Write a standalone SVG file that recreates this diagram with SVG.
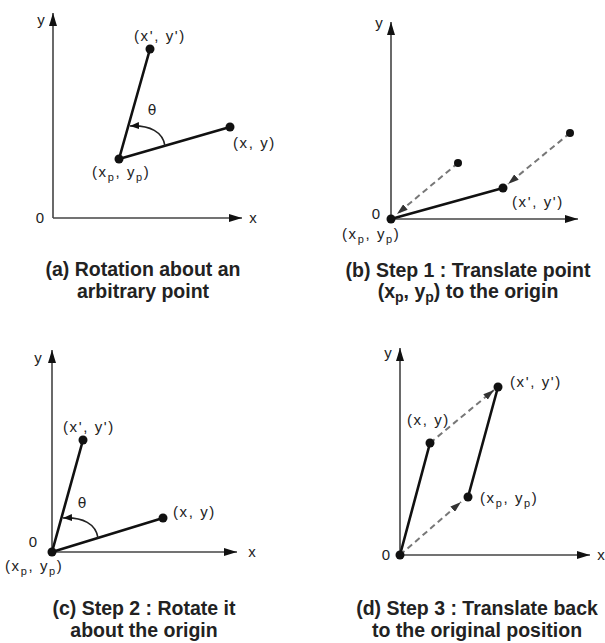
<svg xmlns="http://www.w3.org/2000/svg" width="605" height="643" viewBox="0 0 605 643">
<style>
.axis{stroke:#444;stroke-width:1.6;fill:none}
.seg{stroke:#111;stroke-width:2.6;fill:none;stroke-linecap:round}
.dash{stroke:#777;stroke-width:2;fill:none;stroke-dasharray:6 4}
.arc{stroke:#222;stroke-width:1.6;fill:none}
.dot{fill:#111}
.lbl{font-family:"Liberation Sans",Arial,sans-serif;font-size:15px;fill:#222;letter-spacing:1.6px}
.ax{font-family:"Liberation Sans",Arial,sans-serif;font-size:15px;fill:#222;text-anchor:middle}
.sub{font-size:11px}
.cap{font-family:"Liberation Sans",Arial,sans-serif;font-size:19.5px;font-weight:bold;fill:#222;text-anchor:middle}
.capsub{font-size:14px}
.th{font-family:"DejaVu Sans",sans-serif;font-size:14px;fill:#222;text-anchor:middle}
</style>
<defs>
<marker id="axarrow" markerUnits="userSpaceOnUse" markerWidth="13" markerHeight="8" refX="13" refY="4" orient="auto"><path d="M0,0 L13,4 L0,8 z" fill="#111"/></marker>
<marker id="darrow" markerUnits="userSpaceOnUse" markerWidth="11" markerHeight="7" refX="11" refY="3.5" orient="auto"><path d="M0,0 L11,3.5 L0,7 z" fill="#333"/></marker>
<marker id="aarrow" markerUnits="userSpaceOnUse" markerWidth="9" markerHeight="7" refX="9" refY="3.5" orient="auto"><path d="M0,0 L9,3.5 L0,7 z" fill="#111"/></marker>
</defs>
<rect width="605" height="643" fill="#fff"/>

<g id="connectors">
  <!-- panel a -->
  <path class="axis" d="M53,218 L53,13" marker-end="url(#axarrow)"/>
  <path class="axis" d="M53,218 L242,218" marker-end="url(#axarrow)"/>
  <path class="seg" d="M119,159 L150,49"/>
  <path class="seg" d="M119,159 L230,127"/>
  <path class="arc" d="M165,146 C163,132 150,125 130,126" marker-end="url(#aarrow)"/>
  <!-- panel b -->
  <path class="axis" d="M391,219 L391,22" marker-end="url(#axarrow)"/>
  <path class="axis" d="M391,219 L578,219" marker-end="url(#axarrow)"/>
  <path class="seg" d="M391,219 L503,188"/>
  <path class="dash" d="M458,163 L397,214" marker-end="url(#darrow)"/>
  <path class="dash" d="M570,133 L508,184" marker-end="url(#darrow)"/>
  <!-- panel c -->
  <path class="axis" d="M52,552 L52,350" marker-end="url(#axarrow)"/>
  <path class="axis" d="M52,552 L237,552" marker-end="url(#axarrow)"/>
  <path class="seg" d="M52,552 L83,440"/>
  <path class="seg" d="M52,552 L163,518"/>
  <path class="arc" d="M98,538 C96,524 83,517 63,518" marker-end="url(#aarrow)"/>
  <!-- panel d -->
  <path class="axis" d="M400,555 L400,348" marker-end="url(#axarrow)"/>
  <path class="axis" d="M400,555 L590,555" marker-end="url(#axarrow)"/>
  <path class="seg" d="M400,555 L430,443"/>
  <path class="seg" d="M468,497 L498,387"/>
  <path class="dash" d="M400,555 L461,502" marker-end="url(#darrow)"/>
  <path class="dash" d="M430,443 L494,390" marker-end="url(#darrow)"/>
</g>

<g id="panel-a">
  <text class="ax" x="41" y="25">y</text>
  <text class="ax" x="40" y="223">0</text>
  <text class="ax" x="253" y="223">x</text>
  <g id="a-pivot"><circle class="dot" cx="119" cy="159" r="4.5"/><text class="lbl" x="92" y="177">(x<tspan class="sub" dy="4">p</tspan><tspan dy="-4">, y</tspan><tspan class="sub" dy="4">p</tspan><tspan dy="-4">)</tspan></text></g>
  <g id="a-rot"><circle class="dot" cx="150" cy="49" r="4.5"/><text class="lbl" x="134" y="41">(x', y')</text></g>
  <g id="a-pt"><circle class="dot" cx="230" cy="127" r="4.5"/><text class="lbl" x="233" y="148">(x, y)</text></g>
  <text class="th" x="152" y="115">θ</text>
  <text class="cap" x="143" y="276">(a) Rotation about an</text>
  <text class="cap" x="143" y="298">arbitrary point</text>
</g>

<g id="panel-b">
  <text class="ax" x="379" y="28">y</text>
  <text class="ax" x="376" y="219">0</text>
  <g id="b-origin"><circle class="dot" cx="391" cy="219" r="4.5"/><text class="lbl" x="342" y="239">(x<tspan class="sub" dy="4">p</tspan><tspan dy="-4">, y</tspan><tspan class="sub" dy="4">p</tspan><tspan dy="-4">)</tspan></text></g>
  <g id="b-rot"><circle class="dot" cx="503" cy="188" r="4.5"/><text class="lbl" x="512" y="207">(x', y')</text></g>
  <g id="b-old1"><circle class="dot" cx="458" cy="163" r="4"/></g>
  <g id="b-old2"><circle class="dot" cx="570" cy="133" r="4"/></g>
  <text class="cap" x="468" y="277">(b) Step 1 : Translate point</text>
  <text class="cap" x="468" y="298">(x<tspan class="capsub" dy="4">p</tspan><tspan dy="-4">, y</tspan><tspan class="capsub" dy="4">p</tspan><tspan dy="-4">) to the origin</tspan></text>
</g>

<g id="panel-c">
  <text class="ax" x="38" y="363">y</text>
  <text class="ax" x="33" y="547">0</text>
  <text class="ax" x="252" y="557">x</text>
  <g id="c-origin"><circle class="dot" cx="52" cy="552" r="4.5"/><text class="lbl" x="5" y="571">(x<tspan class="sub" dy="4">p</tspan><tspan dy="-4">, y</tspan><tspan class="sub" dy="4">p</tspan><tspan dy="-4">)</tspan></text></g>
  <g id="c-rot"><circle class="dot" cx="83" cy="440" r="4.5"/><text class="lbl" x="63" y="432">(x', y')</text></g>
  <g id="c-pt"><circle class="dot" cx="163" cy="518" r="4.5"/><text class="lbl" x="173" y="517">(x, y)</text></g>
  <text class="th" x="82" y="508">θ</text>
  <text class="cap" x="144" y="615">(c) Step 2 : Rotate it</text>
  <text class="cap" x="144" y="637">about the origin</text>
</g>

<g id="panel-d">
  <text class="ax" x="388" y="358">y</text>
  <text class="ax" x="386" y="560">0</text>
  <text class="ax" x="601" y="560">x</text>
  <g id="d-origin"><circle class="dot" cx="400" cy="555" r="4.5"/></g>
  <g id="d-pt"><circle class="dot" cx="430" cy="443" r="4.5"/><text class="lbl" x="407" y="425">(x, y)</text></g>
  <g id="d-rot"><circle class="dot" cx="498" cy="387" r="4.5"/><text class="lbl" x="510" y="387">(x', y')</text></g>
  <g id="d-pivot"><circle class="dot" cx="468" cy="497" r="4.5"/><text class="lbl" x="480" y="503">(x<tspan class="sub" dy="4">p</tspan><tspan dy="-4">, y</tspan><tspan class="sub" dy="4">p</tspan><tspan dy="-4">)</tspan></text></g>
  <text class="cap" x="477" y="615">(d) Step 3 : Translate back</text>
  <text class="cap" x="477" y="637">to the original position</text>
</g>
</svg>
